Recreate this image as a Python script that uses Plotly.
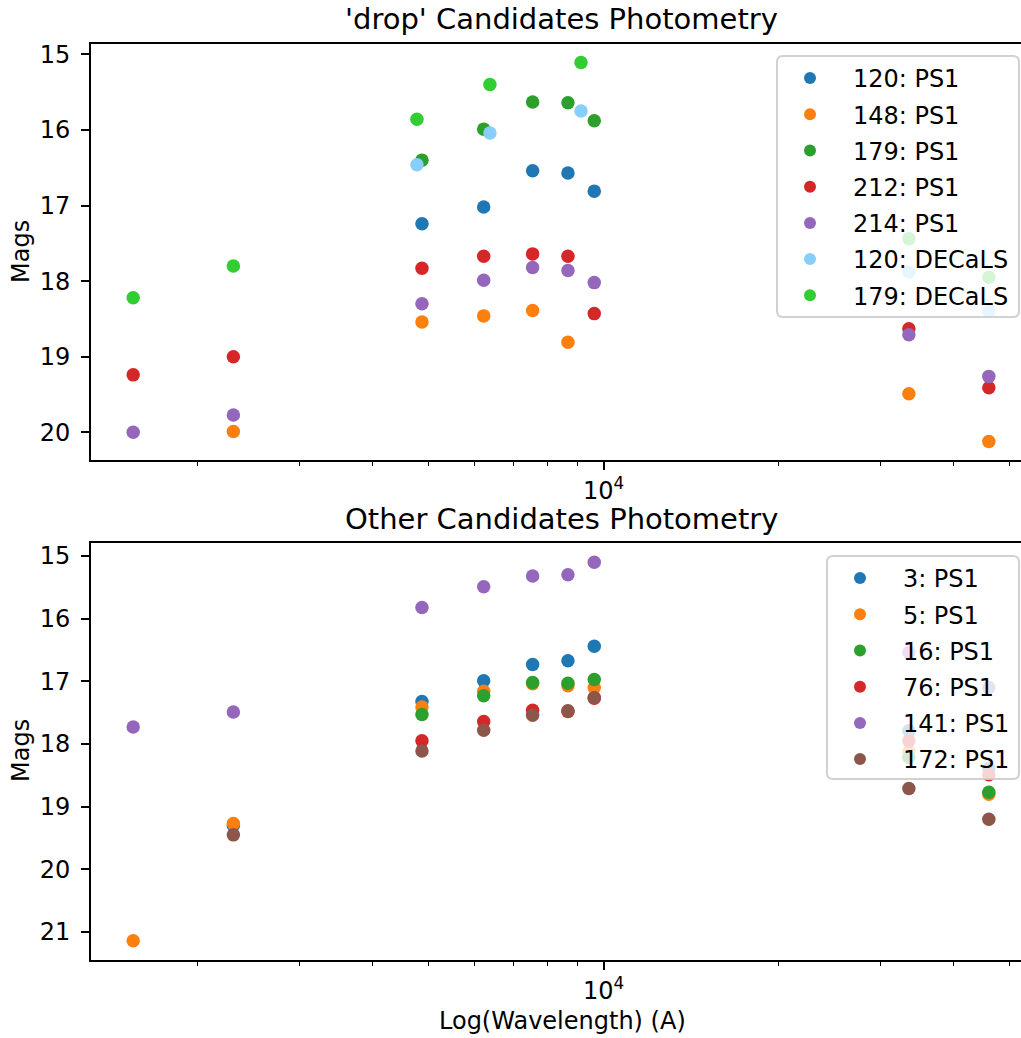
import plotly.graph_objects as go

# ---------------- data ----------------
# wavelengths (Angstrom): GALEX FUV, NUV, PS1 g r i z y, WISE W1 W2
WAVE_PS1 = [1549, 2304, 4866, 6215, 7545, 8679, 9633, 33526, 46028]
# GALEX FUV, NUV, DECaLS g r z, WISE W1 W2
WAVE_DECALS = [1549, 2304, 4770, 6370, 9140, 33526, 46028]

# 'drop' candidates
TOP_NAMES = ["120: PS1", "148: PS1", "179: PS1", "212: PS1", "214: PS1",
             "120: DECaLS", "179: DECaLS"]
mag_120_ps1 = [None, None, 17.24, 17.02, 16.54, 16.57, 16.81, None, None]
mag_148_ps1 = [None, 19.99, 18.54, 18.46, 18.39, 18.81, None, 19.49, 20.12]
mag_179_ps1 = [None, None, 16.40, 15.99, 15.63, 15.64, 15.88, None, None]
mag_212_ps1 = [19.24, 19.00, 17.83, 17.67, 17.64, 17.67, 18.43, 18.63, 19.41]
mag_214_ps1 = [20.00, 19.77, 18.30, 17.99, 17.82, 17.86, 18.02, 18.71, 19.26]
mag_120_decals = [None, None, 16.46, 16.04, 15.75, 17.88, 18.40]
mag_179_decals = [18.22, 17.80, 15.86, 15.40, 15.11, 17.44, 17.95]

# other candidates
BOT_NAMES = ["3: PS1", "5: PS1", "16: PS1", "76: PS1", "141: PS1", "172: PS1"]
mag_3 = [None, 19.30, 17.32, 16.99, 16.73, 16.67, 16.44, 17.79, 18.39]
mag_5 = [21.14, 19.27, 17.41, 17.16, 17.04, 17.07, 17.10, 18.12, 18.80]
mag_16 = [None, None, 17.53, 17.23, 17.02, 17.03, 16.97, 18.21, 18.77]
mag_76 = [None, None, 17.95, 17.64, 17.46, 17.48, 17.27, 17.95, 18.49]
mag_141 = [17.73, 17.49, 15.82, 15.49, 15.32, 15.30, 15.10, 16.54, 17.10]
mag_172 = [None, 19.45, 18.11, 17.78, 17.54, 17.47, 17.26, 18.71, 19.20]

TOP_COLORS = ["#1f77b4", "#ff7f0e", "#2ca02c", "#d62728", "#9467bd",
              "#87cefa", "#32cd32"]
BOT_COLORS = ["#1f77b4", "#ff7f0e", "#2ca02c", "#d62728", "#9467bd", "#8c564b"]

top_series = [
    (WAVE_PS1, mag_120_ps1), (WAVE_PS1, mag_148_ps1), (WAVE_PS1, mag_179_ps1),
    (WAVE_PS1, mag_212_ps1), (WAVE_PS1, mag_214_ps1),
    (WAVE_DECALS, mag_120_decals), (WAVE_DECALS, mag_179_decals),
]
bot_series = [(WAVE_PS1, m) for m in [mag_3, mag_5, mag_16, mag_76, mag_141, mag_172]]

# ---------------- layout helpers ----------------
W, H = 1021, 1038
ML, MR, MT, MB = 91, 0, 44, 78
PW, PH = W - ML - MR, H - MT - MB


def px_x(x):
    return (x - ML) / PW


def px_y(y):
    return (H - MB - y) / PH


FONT = "DejaVu Sans"
FS = 24
TFS = 29
MS = 13.5

fig = go.Figure()
for i, ((wx, wy), name, col) in enumerate(zip(top_series, TOP_NAMES, TOP_COLORS)):
    fig.add_trace(go.Scatter(
        x=wx, y=wy, mode="markers", name="\u00a0\u00a0\u00a0" + name,
        marker=dict(color=col, size=MS, line=dict(width=0)),
        xaxis="x", yaxis="y", legend="legend", legendgroup="t%d" % i))
for i, ((wx, wy), name, col) in enumerate(zip(bot_series, BOT_NAMES, BOT_COLORS)):
    fig.add_trace(go.Scatter(
        x=wx, y=wy, mode="markers", name="\u00a0\u00a0\u00a0" + name,
        marker=dict(color=col, size=MS, line=dict(width=0)),
        xaxis="x2", yaxis="y2", legend="legend2", legendgroup="b%d" % i))

minor_vals = [2000, 3000, 4000, 5000, 6000, 7000, 8000, 9000,
              20000, 30000, 40000, 50000]
xaxis_common = dict(
    type="log", range=[3.1174, 4.7184], domain=[0, 1],
    showgrid=False, zeroline=False, showline=True, linecolor="black",
    linewidth=2, mirror=True, ticks="outside", ticklen=8, tickwidth=1.6,
    tickcolor="black", tickmode="array", tickvals=[10000],
    ticktext=["10<sup>4</sup>"],
    tickfont=dict(family=FONT, size=FS, color="black"),
    minor=dict(tickmode="array", tickvals=minor_vals, ticks="outside",
               ticklen=4, tickwidth=1.2, tickcolor="black", showgrid=False),
)
yaxis_common = dict(
    showgrid=False, zeroline=False, showline=True, linecolor="black",
    linewidth=2, mirror=False, ticks="outside", ticklen=8, tickwidth=1.6,
    tickcolor="black", tickmode="array",
    tickfont=dict(family=FONT, size=FS, color="black"),
    ticklabelstandoff=6,
)

legend_common = dict(xanchor="left", yanchor="top",
                     bgcolor="rgba(0,0,0,0)", borderwidth=0,
                     font=dict(family=FONT, size=FS, color="black"),
                     itemsizing="constant", tracegroupgap=2,
                     traceorder="grouped")

fig.update_layout(
    width=W, height=H,
    margin=dict(l=ML, r=MR, t=MT, b=MB, pad=0),
    paper_bgcolor="white", plot_bgcolor="white",
    font=dict(family=FONT, size=FS, color="black"),
    xaxis=dict(**xaxis_common, anchor="y"),
    xaxis2=dict(**xaxis_common, anchor="y2"),
    yaxis=dict(**yaxis_common, anchor="x", domain=[px_y(460), 1.0],
               range=[20.366, 14.864], tickvals=[15, 16, 17, 18, 19, 20]),
    yaxis2=dict(**yaxis_common, anchor="x2", domain=[0, px_y(543.3)],
                range=[21.447, 14.797],
                tickvals=[15, 16, 17, 18, 19, 20, 21]),
    legend=dict(x=px_x(790), y=px_y(56), **legend_common),
    legend2=dict(x=px_x(840), y=px_y(556), **legend_common),
    showlegend=True,
)


# legend frames (matplotlib style, semi-transparent white with light border)
def frame(x0, y0, x1, y1, r=6):
    X0, X1 = px_x(x0), px_x(x1)
    Y0, Y1 = px_y(y1), px_y(y0)
    rx, ry = r / PW, r / PH
    path = (f"M {X0+rx},{Y1} L {X1-rx},{Y1} Q {X1},{Y1} {X1},{Y1-ry} "
            f"L {X1},{Y0+ry} Q {X1},{Y0} {X1-rx},{Y0} L {X0+rx},{Y0} "
            f"Q {X0},{Y0} {X0},{Y0+ry} L {X0},{Y1-ry} Q {X0},{Y1} {X0+rx},{Y1} Z")
    return dict(type="path", path=path, xref="paper", yref="paper",
                fillcolor="rgba(255,255,255,0.8)",
                line=dict(color="rgba(204,204,204,0.9)", width=2),
                layer="above")


fig.update_layout(shapes=[frame(777, 56, 1019, 317), frame(827, 556, 1019, 779)])

ann = []
ann.append(dict(text="'drop' Candidates Photometry", x=px_x(561), y=px_y(19),
                xref="paper", yref="paper", showarrow=False,
                font=dict(family=FONT, size=TFS, color="black"),
                xanchor="center", yanchor="middle"))
ann.append(dict(text="Other Candidates Photometry", x=px_x(561), y=px_y(519),
                xref="paper", yref="paper", showarrow=False,
                font=dict(family=FONT, size=TFS, color="black"),
                xanchor="center", yanchor="middle"))
ann.append(dict(text="Log(Wavelength) (A)", x=px_x(562), y=px_y(1021),
                xref="paper", yref="paper", showarrow=False,
                font=dict(family=FONT, size=FS, color="black"),
                xanchor="center", yanchor="middle"))
for yc in (252, 751):
    ann.append(dict(text="Mags", x=px_x(21), y=px_y(yc), xref="paper",
                    yref="paper", showarrow=False, textangle=-90,
                    font=dict(family=FONT, size=FS, color="black"),
                    xanchor="center", yanchor="middle"))
fig.update_layout(annotations=ann)

fig.write_html("out.html")
